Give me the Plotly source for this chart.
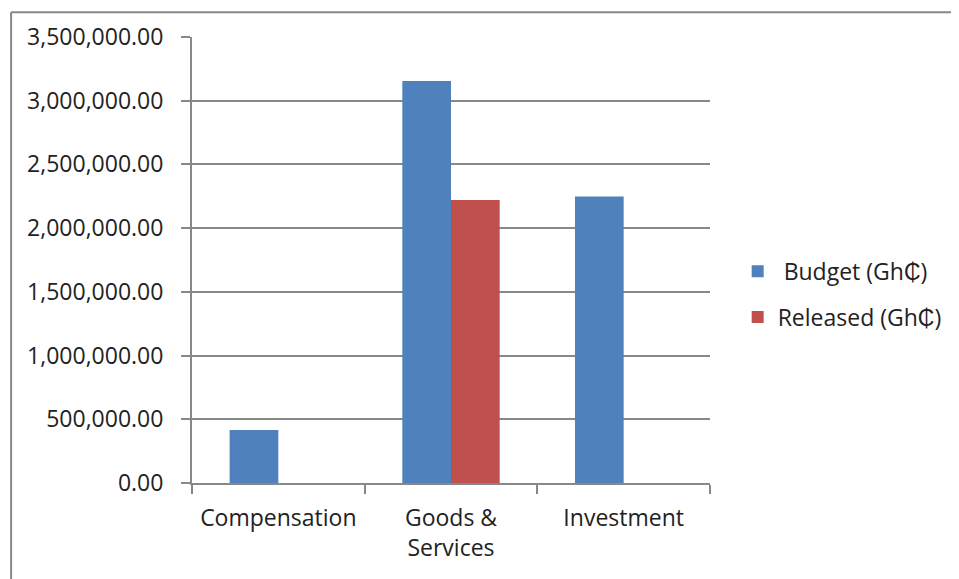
import plotly.graph_objects as go

categories = ["Compensation", "Goods &<br>Services", "Investment"]
budget = [416000, 3155000, 2248000]
released = [0, 2220000, 0]
series_names = ["\u00a0Budget (Gh\u20b5)", "Released (Gh\u20b5)"]
y_ticks = [0, 500000, 1000000, 1500000, 2000000, 2500000, 3000000, 3500000]

FONT = "Open Sans, Liberation Sans, sans-serif"
GRID = "#888888"
FS = 23

fig = go.Figure()
fig.add_trace(go.Bar(x=categories, y=budget, name=series_names[0],
                     marker=dict(color="#4F81BD", line=dict(width=0)),
                     legendgroup="a"))
fig.add_trace(go.Bar(x=categories, y=released, name=series_names[1],
                     marker=dict(color="#C0504D", line=dict(width=0)),
                     legendgroup="b"))

# page has an 8px body margin; work in page coordinates and convert
OFF = 8
W, H = 959 - OFF, 579 - OFF
L, R, T, B = 192 - OFF, 716 - OFF, 34 - OFF, 483 - OFF
pw, ph = R - L, B - T

def px(x):
    return (x - OFF - L) / pw

def py(y):
    return (B - (y - OFF)) / ph

fig.update_layout(
    width=W, height=H,
    margin=dict(l=L, r=W - R, t=T, b=H - B, pad=0),
    paper_bgcolor="white", plot_bgcolor="white",
    barmode="group", bargap=0.436, bargroupgap=0,
    font=dict(family=FONT, size=FS, color="#222222"),
    showlegend=True,
    legend=dict(x=px(744), y=py(293), xanchor="left", yanchor="middle",
                traceorder="grouped", tracegroupgap=13,
                font=dict(family=FONT, size=FS, color="#222222"),
                itemwidth=30, bgcolor="rgba(0,0,0,0)"),
    xaxis=dict(showline=True, linecolor=GRID, linewidth=2,
               ticks="outside", tickson="boundaries", ticklen=9, tickwidth=2,
               tickcolor=GRID, showgrid=False, tickfont=dict(size=FS),
               ticklabelstandoff=13),
    yaxis=dict(range=[0, 3500000], tickvals=y_ticks, tickformat=",.2f",
               showline=True, linecolor=GRID, linewidth=2,
               ticks="outside", ticklen=9, tickwidth=2, tickcolor=GRID,
               showgrid=True, gridcolor=GRID, gridwidth=2,
               zeroline=False, tickfont=dict(size=FS),
               ticklabelstandoff=13),
    shapes=[
        dict(type="line", xref="paper", yref="paper",
             x0=px(9), x1=px(980), y0=py(9), y1=py(9),
             line=dict(color="#888888", width=2)),
        dict(type="line", xref="paper", yref="paper",
             x0=px(9), x1=px(9), y0=py(9), y1=py(600),
             line=dict(color="#888888", width=2)),
    ],
)

fig.write_html("out.html")
